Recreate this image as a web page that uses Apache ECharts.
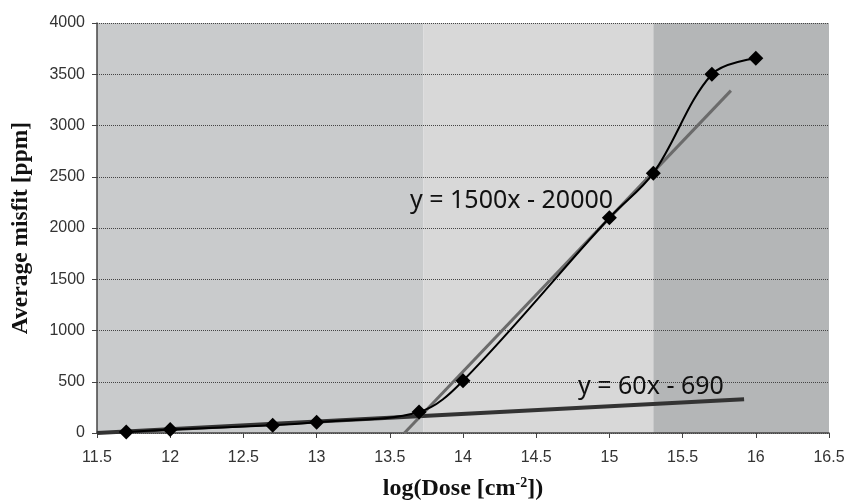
<!DOCTYPE html>
<html><head><meta charset="utf-8">
<script src="https://cdn.jsdelivr.net/npm/echarts@6/dist/echarts.min.js"></script>
<style>html,body{margin:0;padding:0;background:#fff}#c{width:846px;height:500px}</style>
</head><body><div id="c"></div>
<script>
var doseX = [11.7, 12, 12.7, 13, 13.7, 14, 15, 15.3, 15.7, 16];
var misfitY = [10, 35, 75, 105, 205, 510, 2100, 2535, 3500, 3655];
var lowFitX = [11.5, 15.92];
var lowFitY = [0, 330];
var highFitX = [13.6, 15.83];
var highFitY = [0, 3340];
var regionBounds = [11.5, 13.73, 15.3, 16.5];
var regionColors = ['#c9cbcc', '#d8d8d8', '#b4b6b7'];
var xTicks = ['11.5','12','12.5','13','13.5','14','14.5','15','15.5','16','16.5'];
var yTicks = ['0','500','1000','1500','2000','2500','3000','3500','4000'];
var eqHigh = 'y = 1500x - 20000';
var eqLow = 'y = 60x - 690';

var chart = echarts.init(document.getElementById('c'), null, {renderer: 'canvas'});
function zip(a, b) { return a.map(function (v, i) { return [v, b[i]]; }); }
var areas = [];
for (var i = 0; i < regionBounds.length - 1; i++) {
  areas.push([{xAxis: regionBounds[i], itemStyle: {color: regionColors[i]}}, {xAxis: regionBounds[i + 1]}]);
}
chart.setOption({
  animation: false,
  grid: {left: 97, right: 17, top: 23, bottom: 67, containLabel: false, outerBoundsMode: 'none'},
  xAxis: {
    type: 'value', min: 11.5, max: 16.5, interval: 0.5, z: 1.5,
    name: '{a|log(Dose [cm}{s|-2}{a|])}', nameLocation: 'middle', nameGap: 43,
    nameTextStyle: {rich: {
      a: {fontFamily: 'Liberation Serif', fontWeight: 'bold', fontSize: 24, color: '#111', lineHeight: 26},
      s: {fontFamily: 'Liberation Serif', fontWeight: 'bold', fontSize: 14, color: '#111', lineHeight: 14, verticalAlign: 'top'}
    }},
    axisLine: {show: true, lineStyle: {color: '#444', width: 1.5}},
    axisTick: {show: true, length: 5, lineStyle: {color: '#444'}},
    axisLabel: {fontFamily: 'Liberation Sans', fontSize: 16, color: '#333', margin: 17,
      formatter: function (v) { var s = String(+v.toFixed(1)); return xTicks.indexOf(s) >= 0 ? s : ''; }},
    splitLine: {show: false}
  },
  yAxis: {
    type: 'value', min: 0, max: 4000, interval: 500, z: 1.5,
    name: 'Average misfit [ppm]', nameLocation: 'middle', nameGap: 64,
    nameTextStyle: {fontFamily: 'Liberation Serif', fontWeight: 'bold', fontSize: 23.5, color: '#111'},
    axisLine: {show: true, lineStyle: {color: '#444', width: 1.5}},
    axisTick: {show: true, length: 5, lineStyle: {color: '#444'}},
    axisLabel: {fontFamily: 'Liberation Sans', fontSize: 16, color: '#333', margin: 12,
      formatter: function (v) { var s = String(v); return yTicks.indexOf(s) >= 0 ? s : ''; }},
    splitLine: {show: true, lineStyle: {color: '#444', type: [1, 1], width: 1}}
  },
  series: [
    {type: 'line', data: [], silent: true,
     markArea: {silent: true, z: 1, data: areas, itemStyle: {opacity: 1}}},
    {type: 'line', data: zip(lowFitX, lowFitY), symbol: 'none', z: 3,
     lineStyle: {color: '#333', width: 4}},
    {type: 'line', data: zip(highFitX, highFitY), symbol: 'none', z: 3,
     lineStyle: {color: '#6b6b6b', width: 3}},
    {type: 'line', data: zip(doseX, misfitY), smooth: 0.35, z: 4,
     symbol: 'diamond', symbolSize: 15,
     itemStyle: {color: '#000'}, lineStyle: {color: '#000', width: 2}}
  ],
  graphic: [
    {type: 'text', left: 410, top: 188, style: {text: eqHigh, fontFamily: 'Noto Sans', fontSize: 25, fill: '#111'}, z: 10},
    {type: 'text', left: 578, top: 374, style: {text: eqLow, fontFamily: 'Noto Sans', fontSize: 25, fill: '#111'}, z: 10}
  ]
});
</script></body></html>
